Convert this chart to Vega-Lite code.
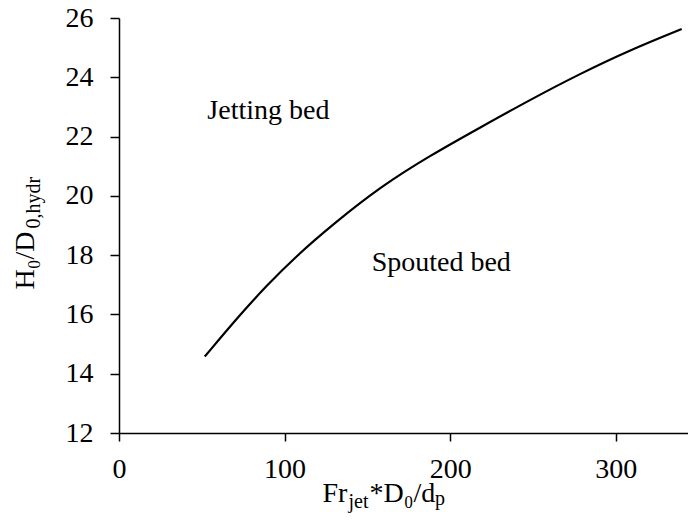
{
  "$schema": "https://vega.github.io/schema/vega-lite/v6.json",
  "width": 569,
  "height": 415,
  "autosize": "none",
  "padding": {"left": 119, "top": 18, "right": 0, "bottom": 95},
  "background": "white",
  "title": {
    "text": "p",
    "orient": "bottom",
    "anchor": "start",
    "frame": "group",
    "font": "Liberation Serif",
    "fontSize": 20,
    "fontWeight": "normal",
    "color": "black",
    "baseline": "alphabetic",
    "offset": -6,
    "dx": 316
  },
  "config": {
    "view": {"stroke": null},
    "font": "Liberation Serif",
    "text": {"font": "Liberation Serif"},
    "axis": {
      "grid": false,
      "domainColor": "black",
      "tickColor": "black",
      "labelColor": "black",
      "titleColor": "black",
      "labelFont": "Liberation Serif",
      "titleFont": "Liberation Serif",
      "titleFontWeight": "normal",
      "labelFontSize": 28,
      "titleFontSize": 28,
      "titleAlign": "left",
      "titleBaseline": "alphabetic"
    }
  },
  "datasets": {
    "boundary": [
      {"fr": 51.8, "h": 14.58},
      {"fr": 72.9, "h": 15.98},
      {"fr": 89.1, "h": 16.97},
      {"fr": 107.2, "h": 17.98},
      {"fr": 129.4, "h": 19.05},
      {"fr": 157.7, "h": 20.3},
      {"fr": 187.8, "h": 21.36},
      {"fr": 217.9, "h": 22.3},
      {"fr": 248.2, "h": 23.24},
      {"fr": 278.4, "h": 24.12},
      {"fr": 308.6, "h": 24.92},
      {"fr": 339.8, "h": 25.63}
    ],
    "regions": [
      {"label": "Jetting bed", "fr": 90.2, "h": 22.59},
      {"label": "Spouted bed", "fr": 194.6, "h": 17.48}
    ]
  },
  "layer": [
    {
      "data": {"name": "boundary"},
      "mark": {"type": "line", "interpolate": "basis", "color": "black", "strokeWidth": 2.2},
      "encoding": {
        "x": {
          "field": "fr",
          "type": "quantitative",
          "scale": {"domain": [0, 343.6], "nice": false, "zero": false},
          "axis": {
            "orient": "bottom",
            "values": [0, 100, 200, 300],
            "tickSize": 8,
            "tickWidth": 1.5,
            "domainWidth": 1.5,
            "labelPadding": 14,
            "labelFlush": false,
            "labelOverlap": false,
            "title": "Fr",
            "titleX": 203,
            "titleY": 68
          }
        },
        "y": {
          "field": "h",
          "type": "quantitative",
          "scale": {"domain": [12, 26], "nice": false, "zero": false},
          "axis": {
            "orient": "left",
            "values": [12, 14, 16, 18, 20, 22, 24, 26],
            "tickSize": 9,
            "tickWidth": 1.5,
            "domainWidth": 1.5,
            "labelPadding": 17,
            "labelFlush": false,
            "labelOverlap": false,
            "title": "H₀/D",
            "titleAngle": 270,
            "titleX": -86,
            "titleY": 271
          }
        }
      }
    },
    {
      "data": {"name": "regions"},
      "transform": [{"filter": "datum.label === 'Jetting bed'"}],
      "mark": {"type": "text", "align": "center", "baseline": "alphabetic", "fontSize": 28, "color": "black"},
      "encoding": {
        "text": {"field": "label"},
        "x": {
          "field": "fr",
          "type": "quantitative",
          "scale": {"domain": [0, 343.6], "nice": false, "zero": false},
          "axis": {
            "orient": "bottom",
            "domain": false,
            "ticks": false,
            "labels": false,
            "title": "jet",
            "titleFontSize": 20,
            "titleX": 229,
            "titleY": 74
          }
        },
        "y": {
          "field": "h",
          "type": "quantitative",
          "scale": {"domain": [12, 26], "nice": false, "zero": false},
          "axis": {
            "orient": "left",
            "domain": false,
            "ticks": false,
            "labels": false,
            "title": "0,hydr",
            "titleFontSize": 20,
            "titleAngle": 270,
            "titleX": -80,
            "titleY": 210
          }
        }
      }
    },
    {
      "data": {"name": "regions"},
      "transform": [{"filter": "datum.label === 'Spouted bed'"}],
      "mark": {"type": "text", "align": "center", "baseline": "alphabetic", "fontSize": 28, "color": "black"},
      "encoding": {
        "text": {"field": "label"},
        "x": {
          "field": "fr",
          "type": "quantitative",
          "scale": {"domain": [0, 343.6], "nice": false, "zero": false},
          "axis": {
            "orient": "bottom",
            "domain": false,
            "ticks": false,
            "labels": false,
            "title": "*D₀/d",
            "titleX": 250,
            "titleY": 68
          }
        },
        "y": {
          "field": "h",
          "type": "quantitative",
          "scale": {"domain": [12, 26], "nice": false, "zero": false},
          "axis": null
        }
      }
    }
  ],
  "resolve": {"axis": {"x": "independent", "y": "independent"}}
}
